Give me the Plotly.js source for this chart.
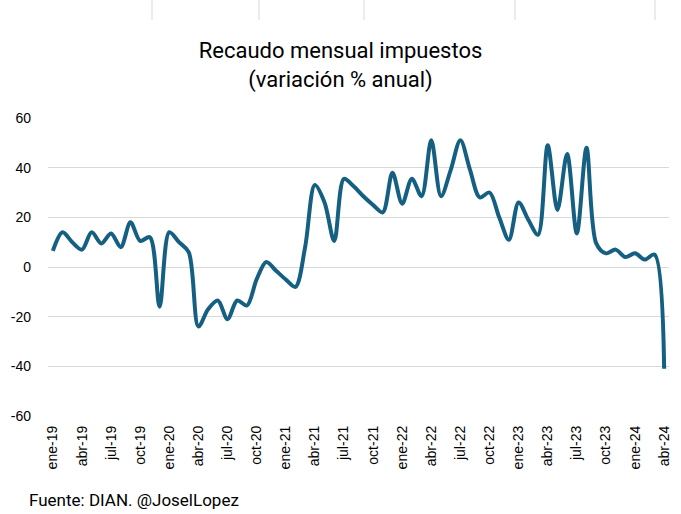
<!DOCTYPE html>
<html>
<head>
<meta charset="utf-8">
<script src="https://cdn.plot.ly/plotly-3.0.1.min.js"></script>
<style>html,body{margin:0;padding:0;background:#fff;}#chart{width:681px;height:514px;}</style>
</head>
<body>
<div id="chart"></div>
<script>
// Month abbreviations and years used for category labels
var monthNames = ["ene","feb","mar","abr","may","jun","jul","ago","sep","oct","nov","dic"];
var years = ["19","20","21","22","23","24"];

// Monthly variation % (ene-19 .. abr-24)
var values2019 = [6.5, 14, 10, 7, 14, 9.5, 13.5, 8, 18, 10.5, 12, -16];
var values2020 = [14, 10, 6, -24, -17, -13.5, -21, -13.5, -15.5, -5, 2, -1.5];
var values2021 = [-5, -8, 8, 33, 26, 10.5, 35.5, 32.5, 28.5, 25, 22, 38];
var values2022 = [25.5, 35.5, 28.5, 51, 28.5, 39, 51, 39, 28, 30, 20, 11];
var values2023 = [26, 19, 13, 49, 23, 45.5, 13.5, 48, 9.5, 5.5, 7, 4];
var values2024 = [5.5, 3, 5, -41];

var yTickVals = [60, 40, 20, 0, -20, -40, -60];
var yTickText = ["60", "40", "20", "0", "-20", "-40", "-60"];

var values = [].concat(values2019, values2020, values2021, values2022, values2023, values2024);
var categories = [];
for (var i = 0; i < values.length; i++) {
  categories.push(monthNames[i % 12] + "-" + years[Math.floor(i / 12)]);
}
var xTickVals = categories.filter(function (c, i) { return i % 3 === 0; });

var trace = {
  x: categories,
  y: values,
  type: "scatter",
  mode: "lines",
  line: { color: "#156082", width: 4, shape: "spline", smoothing: 0.9 },
  hoverinfo: "x+y"
};

function px2paperX(px) { return (px - 48) / 621; }
function px2paperY(py) { return (416 - py) / 298; }
var topLines = [152, 259, 364, 515, 655].map(function (p) {
  return { type: "line", xref: "paper", yref: "paper",
    x0: px2paperX(p), x1: px2paperX(p), y0: px2paperY(0), y1: px2paperY(20),
    line: { color: "#d9d9d9", width: 1 } };
});

var layout = {
  width: 681,
  height: 514,
  margin: { l: 48, r: 12, t: 118, b: 98 },
  paper_bgcolor: "#ffffff",
  plot_bgcolor: "#ffffff",
  showlegend: false,
  font: { family: "Liberation Sans, Arial, sans-serif", size: 14, color: "#000" },
  title: {
    text: "Recaudo mensual impuestos<br>(variación % anual)",
    font: { family: "Roboto, Liberation Sans, sans-serif", size: 22, color: "#000" },
    xref: "container", x: 0.5, xanchor: "center",
    yref: "container", y: 1 - 58 / 514, yanchor: "top"
  },
  xaxis: {
    type: "category",
    range: [-0.5, values.length - 0.5],
    tickmode: "array",
    tickvals: xTickVals,
    ticktext: xTickVals,
    tickangle: -90,
    showgrid: false,
    zeroline: false,
    showline: false,
    ticks: "",
    ticklabelstandoff: 6,
    tickfont: { size: 14, color: "#000" },
    fixedrange: true
  },
  yaxis: {
    range: [-60, 60],
    tickmode: "array",
    tickvals: yTickVals,
    ticktext: yTickText,
    showgrid: true,
    gridcolor: "#d9d9d9",
    gridwidth: 1,
    zeroline: false,
    showline: false,
    ticks: "",
    ticklabelstandoff: 16,
    tickfont: { size: 14, color: "#000" },
    fixedrange: true
  },
  shapes: topLines,
  annotations: [{
    text: "Fuente: DIAN. @JoselLopez",
    xref: "paper", yref: "paper",
    x: px2paperX(27), xanchor: "left",
    y: px2paperY(500), yanchor: "middle",
    showarrow: false,
    font: { family: "Roboto, Liberation Sans, sans-serif", size: 17, color: "#000" }
  }]
};

Plotly.newPlot("chart", [trace], layout, { displayModeBar: false, staticPlot: true });
</script>
</body>
</html>
